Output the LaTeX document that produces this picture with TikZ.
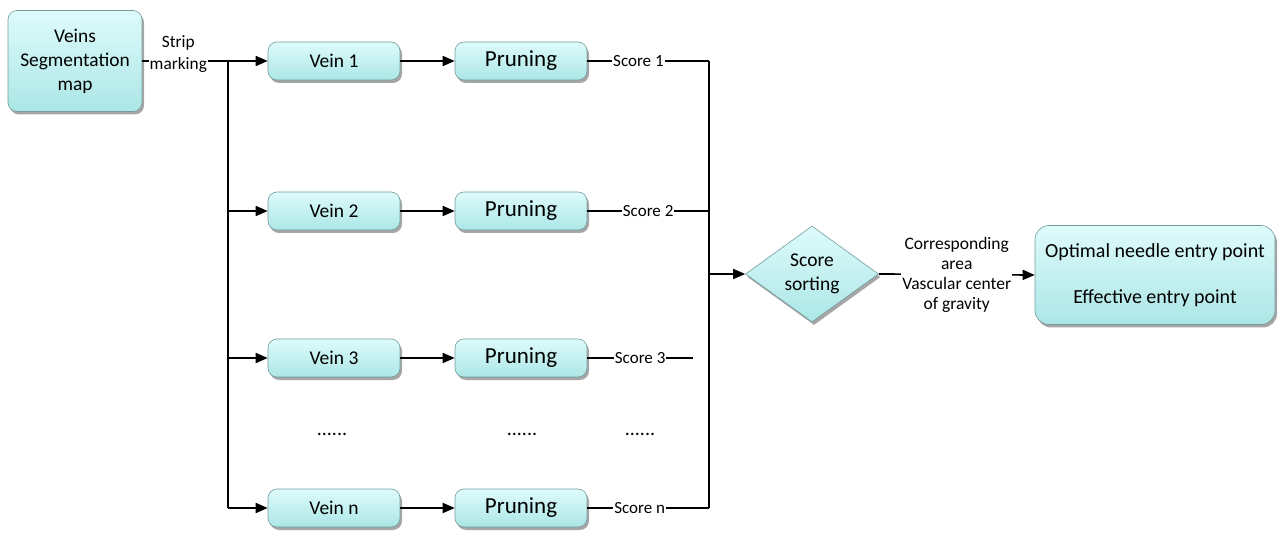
\documentclass[tikz,border=0pt]{standalone}
\usepackage{fontspec}
\setmainfont{Carlito}
\usetikzlibrary{arrows.meta,shapes.geometric,shadows}
\definecolor{boxtop}{RGB}{222,251,251}
\definecolor{boxbot}{RGB}{172,230,230}
\definecolor{boxedge}{RGB}{115,155,155}
\tikzset{
  fz/.style 2 args={font=\fontsize{#1}{#2}\selectfont},
  soft/.style={draw=boxedge, line width=0.6pt, top color=boxtop, bottom color=boxbot,
    drop shadow={shadow xshift=2pt, shadow yshift=-3pt, fill=black, opacity=0.35},
    inner sep=0pt, align=center},
  box/.style={soft, rectangle, rounded corners=9pt},
  veinbox/.style={box, minimum width=132pt, minimum height=38pt, fz={19.5}{24}},
  prunebox/.style={box, minimum width=132pt, minimum height=38pt, fz={23}{28}},
  link/.style={line width=1.7pt, black},
  arr/.style={link, -{Triangle[length=12pt,width=10pt]}},
  lbl/.style={fill=white, inner sep=1pt, fz={17}{21}, align=center},
}
\begin{document}
\begin{tikzpicture}[x=1pt, y=-1pt]
\useasboundingbox (0,0) rectangle (1282,534);

% input map
\node[box, minimum width=134pt, minimum height=101pt, fz={19.4}{24}]
  (map) at (75,61) {Veins\\Segmentation\\map};

% one row per vein
\foreach \k/\t/\y in {1/1/61, 2/2/211, 3/3/358, n/n/508} {
  \node[veinbox] (vein\k) at (334,\y) {Vein \t};
  \node[prunebox] (prune\k) at (521,\y) {Pruning};
}

% left and right buses
\coordinate (lt) at (228,61);
\coordinate (lb) at (228,508);
\coordinate (rt) at (709,61);
\coordinate (rb) at (709,508);
\coordinate (s3end) at (693,358);

% sorting and result
\node[soft, diamond, aspect=1.4, minimum width=133pt, minimum height=96pt,
  fz={19.5}{24}] (sort) at (812,274) {Score\\sorting};
\node[box, rounded corners=14pt, minimum width=240pt, minimum height=99pt,
  fz={20}{22}] (best) at (1155,275)
  {Optimal needle entry point\\[24pt]Effective entry point};

% dots for the omitted rows
\foreach \x/\n in {332/d1, 522/d2, 640/d3}
  \node[fz={20}{24}] (\n) at (\x,434) {......};

% connectors
\draw[link] (map.east) -- (lt)
  node[lbl, pos=0.42, fz={17.3}{22}, yshift=7pt] {Strip\\marking};
\draw[link] (lt) -- (lb);
\foreach \k in {1,2,3,n} {
  \draw[arr] (lt |- vein\k.west) -- (vein\k.west);
  \draw[arr] (vein\k.east) -- (prune\k.west);
}
\draw[link] (prune1.east) -- (rt) node[lbl, pos=0.42] {Score 1};
\draw[link] (prune2.east) -- (rt |- prune2.east) node[lbl, pos=0.5] {Score 2};
\draw[link] (prune3.east) -- (s3end) node[lbl, pos=0.5] {Score 3};
\draw[link] (prunen.east) -- (rb) node[lbl, pos=0.43] {Score n};
\draw[link] (rt) -- (rb);
\draw[arr] (rt |- sort.west) -- (sort.west);
\draw[arr] (sort.east) -- (best.west)
  node[lbl, pos=0.5, fz={17.5}{20}]
  {Corresponding\\area\\Vascular center\\of gravity};
\end{tikzpicture}
\end{document}
